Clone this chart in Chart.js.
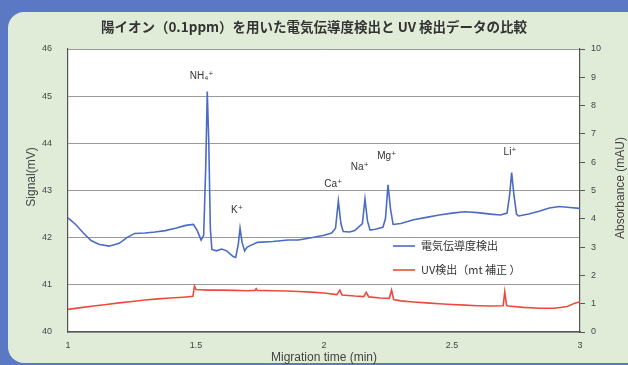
<!DOCTYPE html>
<html>
<head>
<meta charset="utf-8">
<script src="https://cdn.jsdelivr.net/npm/chart.js@4.4.0/dist/chart.umd.min.js"></script>
<style>
  html, body { margin:0; padding:0; }
  body { width:628px; height:365px; background:#5a78c3; overflow:hidden; position:relative; }
  .panel { position:absolute; left:8px; top:12px; right:0; bottom:2px; background:#e1ecd8; border-radius:16px 0 0 16px; }
  #wrap { position:absolute; left:0; top:0; width:628px; height:365px; }
</style>
</head>
<body>
<div class="panel"></div>
<div id="wrap"><canvas id="myChart" width="628" height="365"></canvas></div>
<script>
// 電気伝導度検出 (mV)
const timeBlue = [1.00,1.03,1.06,1.09,1.12,1.16,1.20,1.23,1.26,1.30,1.34,1.38,1.42,1.46,1.49,1.505,1.52,1.53,1.538,1.544,1.550,1.556,1.562,1.58,1.60,1.62,1.645,1.655,1.665,1.672,1.680,1.69,1.70,1.74,1.80,1.86,1.90,1.95,2.00,2.03,2.045,2.056,2.066,2.075,2.10,2.12,2.15,2.16,2.17,2.18,2.20,2.23,2.24,2.25,2.26,2.27,2.30,2.35,2.40,2.45,2.50,2.55,2.60,2.65,2.69,2.715,2.725,2.733,2.742,2.752,2.76,2.80,2.84,2.88,2.92,2.96,3.00];
const signalBlue = [42.42,42.28,42.10,41.94,41.86,41.82,41.88,42.00,42.09,42.10,42.12,42.15,42.20,42.26,42.28,42.15,41.95,42.05,43.50,45.10,44.00,42.20,41.75,41.72,41.76,41.72,41.60,41.58,41.85,42.20,41.90,41.72,41.80,41.90,41.92,41.95,41.95,42.00,42.05,42.10,42.20,42.78,42.30,42.13,42.12,42.15,42.30,42.82,42.35,42.16,42.18,42.22,42.40,43.12,42.60,42.28,42.30,42.38,42.43,42.48,42.52,42.55,42.53,42.50,42.48,42.52,42.90,43.38,42.90,42.50,42.46,42.50,42.56,42.63,42.66,42.64,42.62];

// UV検出 (mAU)
const timeRed = [1.00,1.05,1.10,1.15,1.20,1.25,1.30,1.35,1.40,1.45,1.488,1.494,1.500,1.55,1.60,1.65,1.70,1.73,1.735,1.74,1.80,1.85,1.90,1.95,2.00,2.05,2.062,2.07,2.12,2.155,2.165,2.175,2.22,2.255,2.264,2.272,2.30,2.35,2.40,2.45,2.50,2.55,2.60,2.65,2.70,2.706,2.713,2.72,2.78,2.84,2.90,2.95,2.98,3.00];
const absRed = [0.80,0.86,0.92,0.97,1.03,1.08,1.13,1.17,1.20,1.23,1.26,1.62,1.50,1.48,1.48,1.47,1.46,1.47,1.53,1.47,1.46,1.45,1.43,1.41,1.38,1.32,1.48,1.31,1.27,1.25,1.40,1.24,1.20,1.19,1.48,1.15,1.10,1.06,1.03,1.00,0.97,0.95,0.93,0.92,0.93,1.42,0.95,0.92,0.87,0.84,0.84,0.90,1.02,1.07];

// ピーク名
const peakNames = ['NH\u2084\u207A','K\u207A','Ca\u207A','Na\u207A','Mg\u207A','Li\u207A'];
const peakTimes = [1.522,1.66,2.036,2.14,2.245,2.727];
const peakLevels = [45.42,42.59,43.14,43.49,43.72,43.82];

const seriesNames = ['電気伝導度検出','UV検出（mt 補正 ）'];
const seriesColors = ['#4b6cc6','#ee4a3b'];

const xTicks = [1,1.5,2,2.5,3];

// プロット領域を白に
const plotBg = {
    id:'plotBg',
    beforeDraw(chart){
        const a = chart.chartArea;
        chart.ctx.save();
        chart.ctx.fillStyle = '#fff';
        chart.ctx.fillRect(a.left, a.top, a.right-a.left, a.bottom-a.top);
        chart.ctx.restore();
    }
};

const peakLabels = {
    id:'peakLabels',
    afterDatasetsDraw(chart){
        const ctx = chart.ctx;
        const sx = chart.scales.x, sy = chart.scales.y;
        ctx.save();
        ctx.fillStyle = '#333';
        ctx.font = '10px "Liberation Sans", "DejaVu Sans", sans-serif';
        ctx.textAlign = 'center';
        ctx.textBaseline = 'middle';
        peakNames.forEach((n,i)=>{
            ctx.fillText(n, sx.getPixelForValue(peakTimes[i]), sy.getPixelForValue(peakLevels[i]));
        });
        ctx.restore();
    }
};

// 凡例と軸タイトル
const extras = {
    id:'extras',
    afterDraw(chart){
        const ctx = chart.ctx;
        const a = chart.chartArea;
        ctx.save();
        // legend
        ctx.font = '11px "Noto Sans CJK JP", sans-serif';
        ctx.textBaseline = 'middle';
        ctx.textAlign = 'left';
        seriesNames.forEach((n,i)=>{
            const y = a.top + 197 + i*24;
            const x = a.left + 325;
            ctx.strokeStyle = seriesColors[i];
            ctx.lineWidth = 1.6;
            ctx.beginPath(); ctx.moveTo(x, y); ctx.lineTo(x+22, y); ctx.stroke();
            ctx.fillStyle = '#333';
            ctx.fillText(n, x+28, y);
        });
        // y axis titles
        ctx.font = '12px "Liberation Sans", sans-serif';
        ctx.fillStyle = '#444';
        ctx.textAlign = 'center';
        ctx.save();
        ctx.translate(32, 177);
        ctx.rotate(-Math.PI/2);
        ctx.fillText('Signal(mV)', 0, 0);
        ctx.restore();
        ctx.save();
        ctx.translate(621, 188);
        ctx.rotate(-Math.PI/2);
        ctx.fillText('Absorbance (mAU)', 0, 0);
        ctx.restore();
        ctx.restore();
    }
};

const tickFont = {family:'"Liberation Sans", sans-serif', size:9};

new Chart(document.getElementById('myChart'), {
    type:'line',
    data:{
        datasets:[{
            label:seriesNames[0],
            data:timeBlue.map((t,i)=>({x:t, y:signalBlue[i]})),
            borderColor:seriesColors[0],
            borderWidth:1.6,
            pointRadius:0,
            yAxisID:'y'
        },{
            label:seriesNames[1],
            data:timeRed.map((t,i)=>({x:t, y:absRed[i]})),
            borderColor:seriesColors[1],
            borderWidth:1.6,
            pointRadius:0,
            yAxisID:'y2'
        }]
    },
    options:{
        responsive:false,
        animation:false,
        devicePixelRatio:1,
        layout:{padding:0},
        plugins:{
            legend:{display:false},
            tooltip:{enabled:false},
            title:{
                display:true,
                text:'陽イオン（0.1ppm）を用いた電気伝導度検出と UV 検出データの比較',
                color:'#333',
                font:{family:'"Noto Sans CJK JP", sans-serif', size:13.5, weight:'bold', lineHeight:1.2},
                padding:{top:19, bottom:13.8}
            }
        },
        scales:{
            x:{
                type:'linear',
                min:1, max:3,
                afterBuildTicks(s){ s.ticks = xTicks.map(v=>({value:v})); },
                afterFit(s){ s.height = 33; },
                grid:{display:false, drawTicks:false},
                border:{display:true, color:'#555', width:1.2},
                ticks:{color:'#444', font:tickFont, padding:8, maxRotation:0,
                    callback:(v)=>String(v)},
                title:{display:true, text:'Migration time (min)', color:'#444',
                    font:{family:'"Liberation Sans", sans-serif', size:12}, padding:{top:0, bottom:0}}
            },
            y:{
                position:'left',
                min:40, max:46,
                afterFit(s){ s.width = 68; },
                ticks:{stepSize:1, color:'#444', font:tickFont, padding:16},
                grid:{color:'#9a9a9a', drawTicks:false, lineWidth:1},
                border:{color:'#555', width:1.2}
            },
            y2:{
                position:'right',
                min:0, max:10,
                afterFit(s){ s.width = 48; },
                ticks:{stepSize:1, color:'#444', font:tickFont, padding:6},
                grid:{drawOnChartArea:false, drawTicks:true, tickLength:5, color:'#555'},
                border:{color:'#555', width:1.2}
            }
        }
    },
    plugins:[plotBg, peakLabels, extras]
});
</script>
</body>
</html>
